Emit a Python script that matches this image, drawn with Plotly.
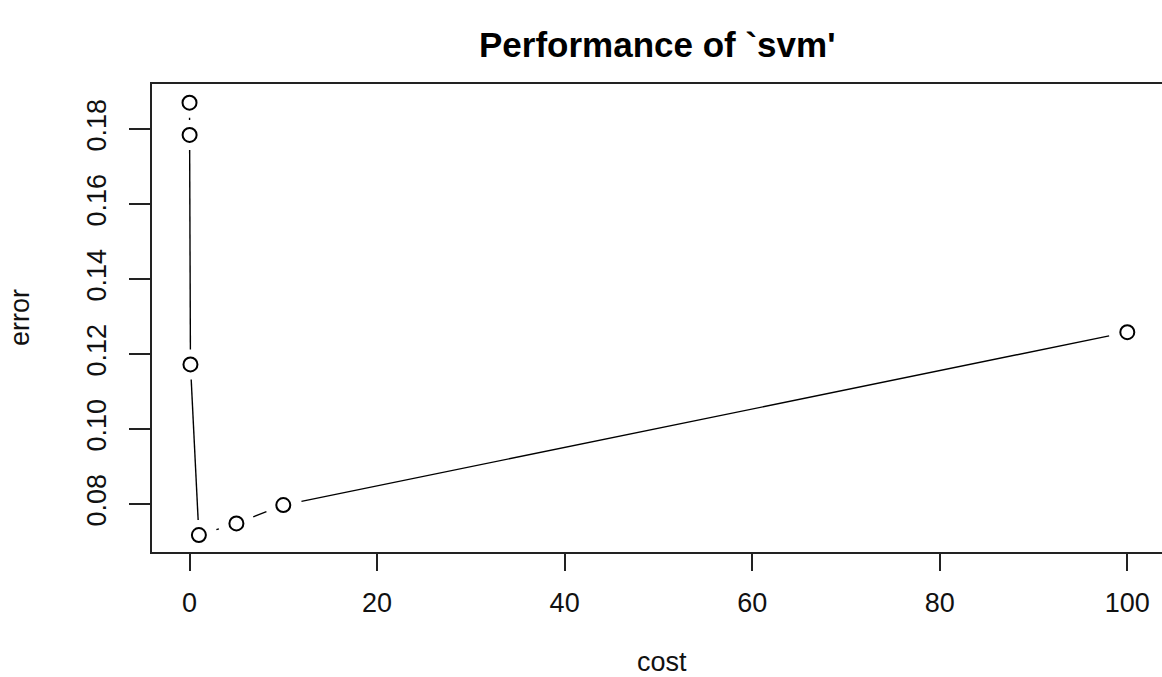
import math
import plotly.graph_objects as go

# Cross-validated tuning results for the SVM cost parameter
cost = [0.001, 0.01, 0.1, 1, 5, 10, 100]
error = [0.1871, 0.1785, 0.1173, 0.0718, 0.0749, 0.0798, 0.1259]

x_ticks = [0, 20, 40, 60, 80, 100]
y_ticks = [0.08, 0.10, 0.12, 0.14, 0.16, 0.18]
y_tick_text = ["0.08", "0.10", "0.12", "0.14", "0.16", "0.18"]

# Figure geometry
FIG_W, FIG_H = 1162, 677
M_L, M_R, M_T, M_B = 152, 0, 84, 125
PLOT_W = FIG_W - M_L - M_R
PLOT_H = FIG_H - M_T - M_B
X_RANGE = [-4.0, 103.70]
Y_RANGE = [0.06728, 0.19208]

kx = PLOT_W / (X_RANGE[1] - X_RANGE[0])
ky = PLOT_H / (Y_RANGE[1] - Y_RANGE[0])

# "type b" style: connecting segments stop short of each point symbol
GAP = 15.0       # gap around each symbol, in pixels
X_ASPECT = 1.25  # horizontal pixel stretch of the canvas
seg_x, seg_y = [], []
for i in range(len(cost) - 1):
    dx = (cost[i + 1] - cost[i]) * kx / X_ASPECT
    dy = (error[i + 1] - error[i]) * ky
    d = math.hypot(dx, dy)
    if d <= 2 * GAP:
        continue
    t0 = GAP / d
    t1 = 1 - GAP / d
    for t in (t0, t1):
        seg_x.append(cost[i] + t * (cost[i + 1] - cost[i]))
        seg_y.append(error[i] + t * (error[i + 1] - error[i]))
    seg_x.append(None)
    seg_y.append(None)

fig = go.Figure()
fig.add_trace(go.Scatter(
    x=seg_x, y=seg_y, mode="lines",
    line=dict(color="black", width=1.4),
    hoverinfo="skip", showlegend=False,
))
fig.add_trace(go.Scatter(
    x=cost, y=error, mode="markers",
    marker=dict(symbol="circle-open", size=14, color="black",
                line=dict(width=2, color="black")),
    showlegend=False,
))

FONT = "Liberation Sans, Arial, Helvetica, sans-serif"
AX_COL = "#222222"
TXT_COL = "#111111"

fig.update_layout(
    width=FIG_W, height=FIG_H, autosize=False,
    margin=dict(l=M_L, r=M_R, t=M_T, b=M_B, pad=0),
    paper_bgcolor="white", plot_bgcolor="white",
    font=dict(family=FONT, size=27, color=TXT_COL),
    xaxis=dict(
        range=X_RANGE, tickmode="array", tickvals=x_ticks,
        ticktext=[str(v) for v in x_ticks],
        showgrid=False, zeroline=False,
        showline=True, linecolor=AX_COL, linewidth=1.6, mirror=True,
        ticks="outside", ticklen=17, tickwidth=1.6, tickcolor=AX_COL,
        ticklabelstandoff=9,
        tickfont=dict(size=27),
    ),
    yaxis=dict(
        range=Y_RANGE, tickmode="array", tickvals=y_ticks,
        ticktext=y_tick_text,
        showgrid=False, zeroline=False,
        showline=True, linecolor=AX_COL, linewidth=1.6, mirror=False,
        ticks="outside", ticklen=21, tickwidth=1.6, tickcolor=AX_COL,
        tickangle=-90, ticklabelstandoff=12,
        tickfont=dict(size=27),
    ),
    annotations=[
        dict(text="<b>Performance of `svm'</b>", xref="paper", yref="paper",
             x=(657 - M_L) / PLOT_W, y=1 + (M_T - 44) / PLOT_H,
             xanchor="center", yanchor="middle", showarrow=False,
             font=dict(size=35, color="black", family=FONT)),
        dict(text="cost", xref="paper", yref="paper",
             x=(662 - M_L) / PLOT_W, y=-(662 - (FIG_H - M_B)) / PLOT_H,
             xanchor="center", yanchor="middle", showarrow=False,
             font=dict(size=27, color=TXT_COL, family=FONT)),
        dict(text="error", xref="paper", yref="paper",
             x=(20 - M_L) / PLOT_W, y=0.5, textangle=-90,
             xanchor="center", yanchor="middle", showarrow=False,
             font=dict(size=27, color=TXT_COL, family=FONT)),
    ],
)

fig.write_html("out.html")
